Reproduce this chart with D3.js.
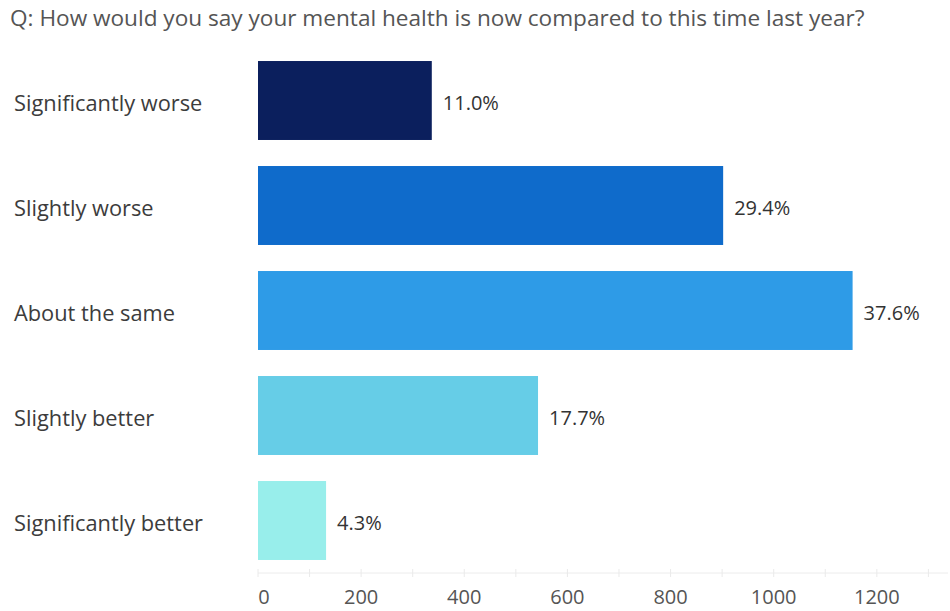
<!DOCTYPE html>
<html>
<head>
<meta charset="utf-8">
<script src="https://cdn.jsdelivr.net/npm/d3@7"></script>
<style>
  html, body { margin: 0; padding: 0; background: #fff; }
  svg { display: block; font-family: "Open Sans", "Noto Sans", sans-serif; }
</style>
</head>
<body>
<svg id="chart" width="950" height="611"></svg>
<script>
// Survey responses: count of respondents per answer
const title = "Q: How would you say your mental health is now compared to this time last year?";
const categories = ["Significantly worse", "Slightly worse", "About the same", "Slightly better", "Significantly better"];
const counts = [337, 902, 1153, 543, 132];
const barColors = ["#0b1f5d", "#0f6bcb", "#2e9be7", "#66cde7", "#98eeeb"];
const tickValues = [0, 200, 400, 600, 800, 1000, 1200];

const total = d3.sum(counts);
const data = categories.map((c, i) => ({ cat: c, n: counts[i], pct: counts[i] / total, color: barColors[i] }));

const svg = d3.select("#chart");
const plotLeft = 258, plotRight = 948, plotTop = 48, plotBottom = 573;

const x = d3.scaleLinear().domain([0, 1338]).range([plotLeft, plotRight]);
const y = d3.scaleBand().domain(categories).range([plotTop, plotBottom]).paddingInner(0.248).paddingOuter(0.124);

// Title
svg.append("text")
  .attr("x", 10).attr("y", 17)
  .attr("dominant-baseline", "central")
  .attr("fill", "#555")
  .style("font-size", "22.6px")
  .text(title);

// Axis baseline with light minor ticks
const axis = svg.append("g").attr("transform", `translate(0,${plotBottom})`);
axis.append("line")
  .attr("x1", plotLeft).attr("x2", plotRight)
  .attr("stroke", "#ececec").attr("stroke-width", 1);
axis.selectAll("line.minor")
  .data(d3.range(0, 1301, 100))
  .join("line")
  .attr("class", "minor")
  .attr("x1", d => x(d)).attr("x2", d => x(d))
  .attr("y1", -4).attr("y2", 4)
  .attr("stroke", "#eaeaea");
axis.selectAll("text.tick")
  .data(tickValues)
  .join("text")
  .attr("class", "tick")
  .attr("x", d => x(d) + (d === 0 ? 6 : 0))
  .attr("y", 31)
  .attr("text-anchor", "middle")
  .attr("fill", "#555")
  .style("font-size", "20px")
  .text(d => d3.format("d")(d));

// Bars
svg.selectAll("rect.bar")
  .data(data)
  .join("rect")
  .attr("class", "bar")
  .attr("x", x(0))
  .attr("y", d => y(d.cat))
  .attr("width", d => x(d.n) - x(0))
  .attr("height", y.bandwidth())
  .attr("fill", d => d.color);

// Category labels
svg.selectAll("text.cat")
  .data(data)
  .join("text")
  .attr("class", "cat")
  .attr("x", 14)
  .attr("y", d => y(d.cat) + y.bandwidth() / 2 + 2)
  .attr("dominant-baseline", "central")
  .attr("fill", "#3c3c3c")
  .style("font-size", "21.8px")
  .text(d => d.cat);

// Percentage labels at bar ends
svg.selectAll("text.val")
  .data(data)
  .join("text")
  .attr("class", "val")
  .attr("x", d => x(d.n) + 11)
  .attr("y", d => y(d.cat) + y.bandwidth() / 2 + 2)
  .attr("dominant-baseline", "central")
  .attr("fill", "#333")
  .style("font-size", "20px")
  .text(d => d3.format(".1%")(d.pct));
</script>
</body>
</html>
